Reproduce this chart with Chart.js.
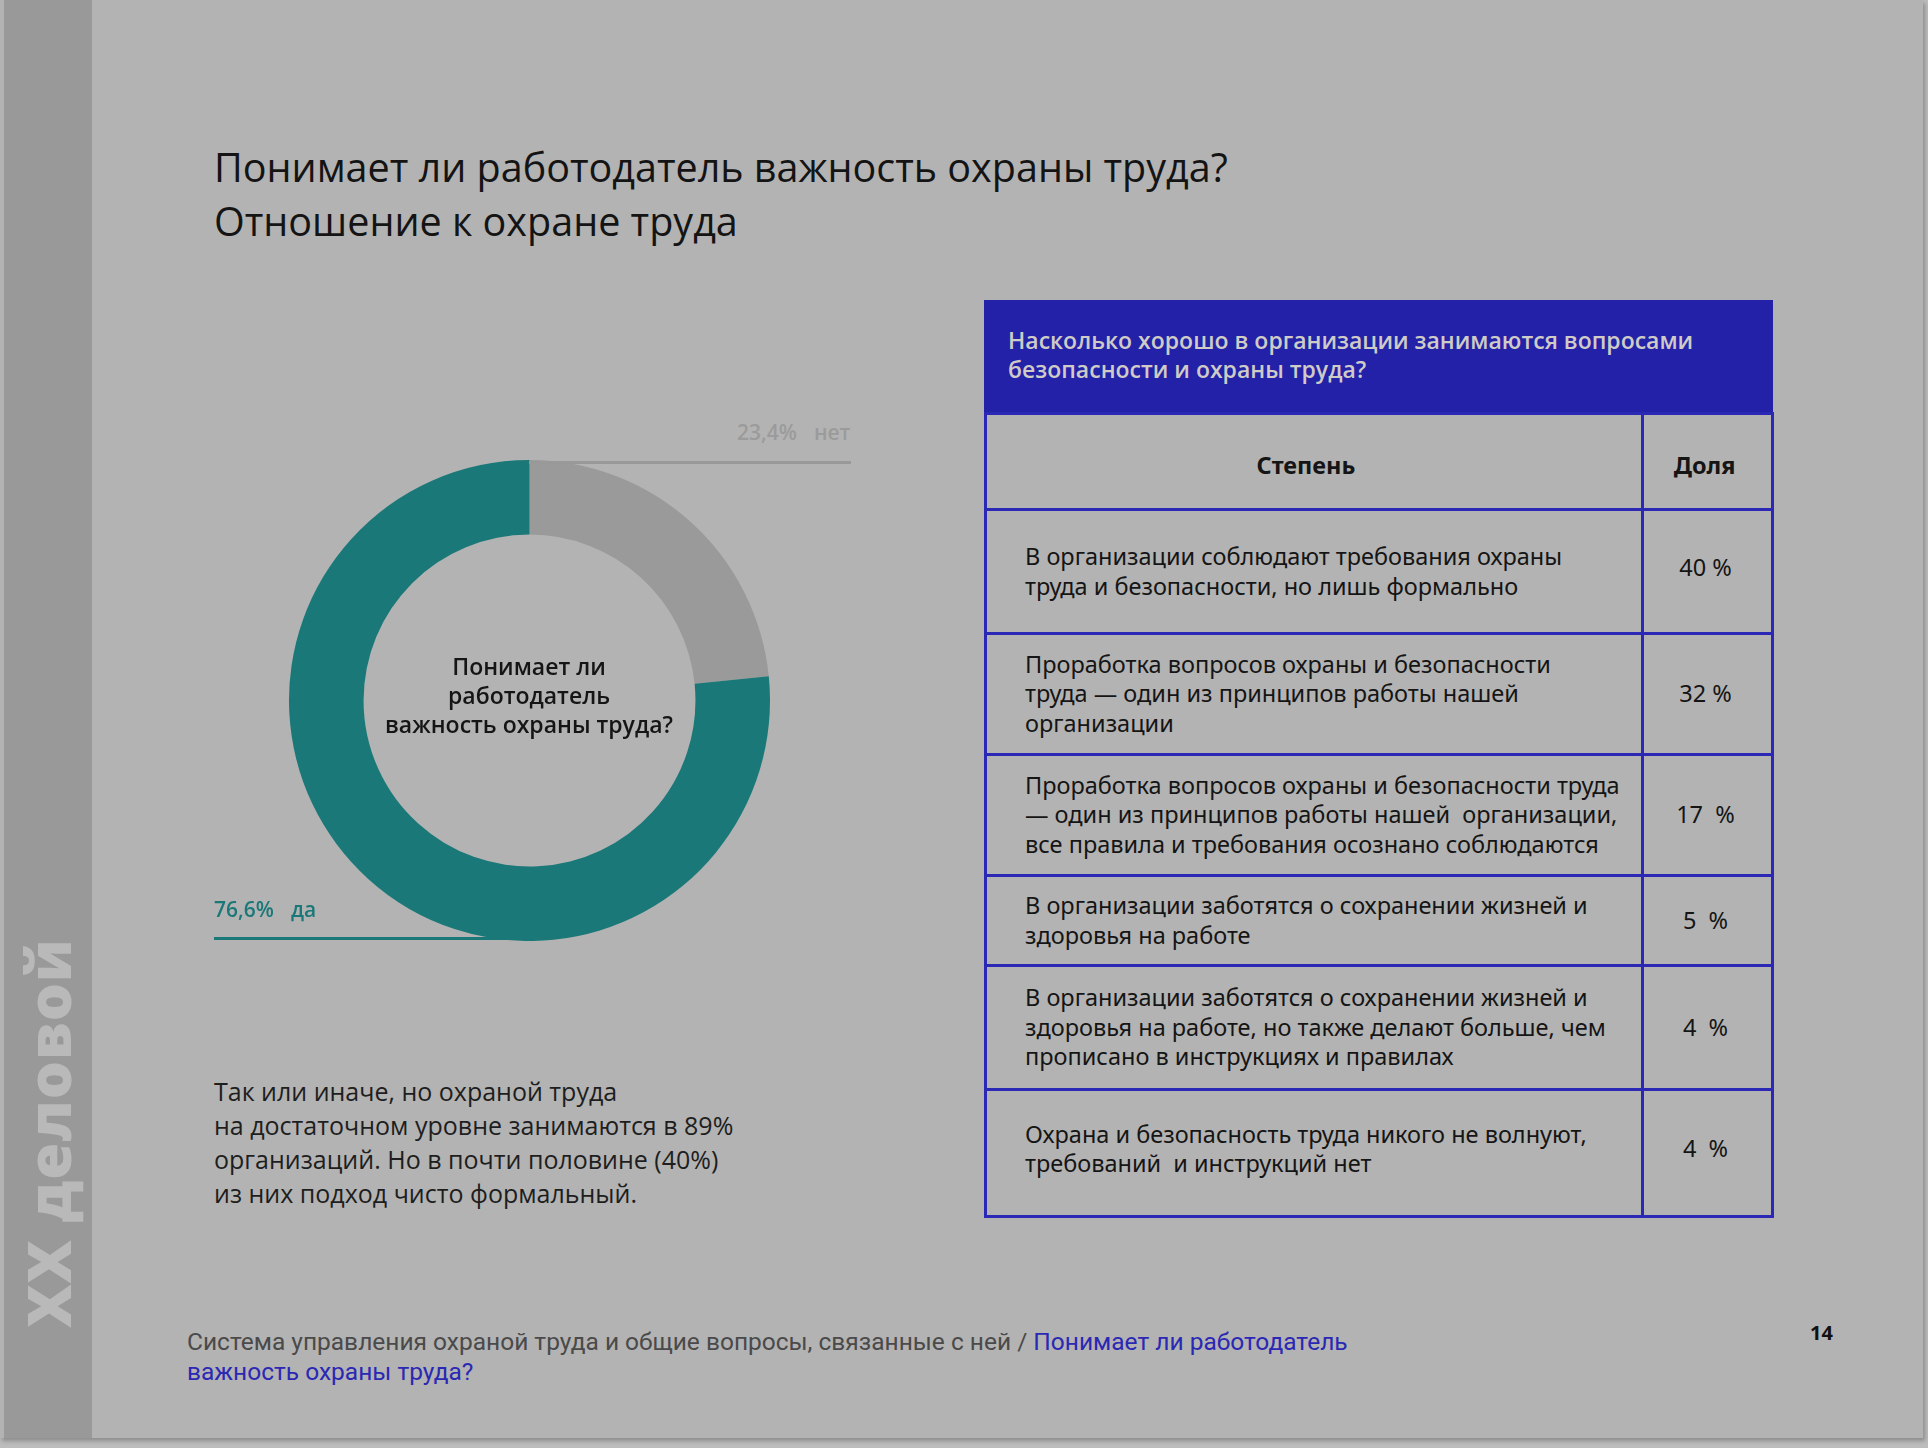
<!DOCTYPE html>
<html lang="ru">
<head>
<meta charset="utf-8">
<title>Отношение к охране труда</title>
<script src="https://cdn.jsdelivr.net/npm/chart.js@4.4.1/dist/chart.umd.min.js"></script>
<style>
  html, body { margin: 0; padding: 0; }
  body { width: 1928px; height: 1448px; background: #bcbcbc; overflow: hidden; position: relative; font-family: "Open Sans", sans-serif; }
  #page { position: absolute; left: 0; top: 0; width: 1923px; height: 1438px; background: #b3b3b3; box-shadow: 2px 3px 4px rgba(0,0,0,0.25); }
  #band { position: absolute; left: 4px; top: 0; width: 88px; height: 1438px; background: #999999; }
  #brand { position: absolute; left: 48px; top: 1133px; transform: translate(-50%, -50%) rotate(-90deg); color: #b9b9b9; font: 800 60px "Open Sans", sans-serif; white-space: nowrap; letter-spacing: 1px; }
  .abs { position: absolute; white-space: nowrap; }
  .title { left: 214px; font: 400 39.5px/44px "Open Sans", sans-serif; color: #141414; }
  #chartBox { position: absolute; left: 289px; top: 460px; width: 481px; height: 481px; }
  #center { left: 529px; top: 652px; transform: translateX(-50%); text-align: center; font: 600 23px/29px "Open Sans", sans-serif; color: #151515; }
  .lbl { font: 600 21px "Open Sans", sans-serif; }
  .lbl span + span { margin-left: 17px; }
  .rule { position: absolute; height: 3px; }
  #note { left: 214px; top: 1074px; font: 400 25px/34px "Open Sans", sans-serif; color: #1e1e1e; }
  #footer { left: 187px; top: 1327px; font: 400 24.5px/30px Roboto, sans-serif; color: #4a4a4a; }
  #footer b { font-weight: 400; color: #2a28b4; }
  #pageNo { left: 1810px; top: 1319px; font: 700 20px "Open Sans", sans-serif; color: #111; }
  #tableHead { position: absolute; left: 984px; top: 300px; width: 789px; height: 113px; background: #2321a8; box-sizing: border-box; padding: 26px 0 0 24px; color: #cfcbc6; font: 600 23px/29px "Open Sans", sans-serif; }
  table { position: absolute; left: 984px; top: 412px; border-collapse: collapse; }
  td { border: 3px solid #2a28b4; padding: 0; font: 400 23.5px/29.5px "Noto Sans", sans-serif; color: #151515; box-sizing: border-box; }
  td.deg { width: 657px; padding-left: 38px; white-space: nowrap; }
  td.share { width: 130px; text-align: center; padding-right: 4px; }
  tr.head td { font-weight: 700; text-align: center; padding: 8px 16px 0 0; }
  tr.head td.share { padding-right: 6px; }
</style>
</head>
<body>
<div id="page">
  <div id="band"></div>
  <div id="brand">ХХ деловой</div>
  <div class="abs title" style="top:145px;">Понимает ли работодатель важность охраны труда?</div>
  <div class="abs title" style="top:199px;">Отношение к охране труда</div>

  <div id="chartBox"><canvas id="donut"></canvas></div>
  <div id="center" class="abs">Понимает ли<br>работодатель<br>важность охраны труда?</div>

  <div id="lblNo" class="abs lbl" style="left:737px; top:418px; color:#9b9b9b;"></div>
  <div class="rule" style="left:529px; top:461px; width:322px; background:#999999;"></div>
  <div id="lblYes" class="abs lbl" style="left:214px; top:895px; color:#1b7878;"></div>
  <div class="rule" style="left:214px; top:937px; width:315px; background:#1b7878;"></div>

  <div id="note" class="abs">Так или иначе, но охраной труда<br>на достаточном уровне занимаются в 89%<br>организаций. Но в почти половине (40%)<br>из них подход чисто формальный.</div>

  <div id="tableHead">Насколько хорошо в организации занимаются вопросами<br>безопасности и охраны труда?</div>
  <table id="tbl"></table>

  <div id="footer" class="abs">Система управления охраной труда и общие вопросы, связанные с ней / <b>Понимает ли работодатель<br>важность охраны труда?</b></div>
  <div id="pageNo" class="abs">14</div>
</div>

<script>
// Донат: понимает ли работодатель важность охраны труда
const donutLabels = ["нет", "да"];
const donutValues = [23.4, 76.6];
const donutColors = ["#9a9a9a", "#1b7878"];

// Таблица: степень / доля
const tableColumns = ["Степень", "Доля"];
const tableDegrees = [
  ["В организации соблюдают требования охраны", "труда и безопасности, но лишь формально"],
  ["Проработка вопросов охраны и безопасности", "труда — один из принципов работы нашей", "организации"],
  ["Проработка вопросов охраны и безопасности труда", "— один из принципов работы нашей  организации,", "все правила и требования осознано соблюдаются"],
  ["В организации заботятся о сохранении жизней и", "здоровья на работе"],
  ["В организации заботятся о сохранении жизней и", "здоровья на работе, но также делают больше, чем", "прописано в инструкциях и правилах"],
  ["Охрана и безопасность труда никого не волнуют,", "требований  и инструкций нет"]
];
const tableShares = ["40 %", "32 %", "17  %", "5  %", "4  %", "4  %"];

// высоты строк таблицы (разметка)
const headRowHeight = 96;
const rowHeights = [124, 121, 121, 90, 124, 127];

const fmt = v => v.toFixed(1).replace(".", ",") + "%";
document.getElementById("lblNo").innerHTML = `<span>${fmt(donutValues[0])}</span><span>${donutLabels[0]}</span>`;
document.getElementById("lblYes").innerHTML = `<span>${fmt(donutValues[1])}</span><span>${donutLabels[1]}</span>`;

let tbl = document.getElementById("tbl");
let head = document.createElement("tr");
head.className = "head";
head.style.height = headRowHeight + "px";
head.innerHTML = `<td class="deg">${tableColumns[0]}</td><td class="share">${tableColumns[1]}</td>`;
tbl.appendChild(head);
tableDegrees.forEach((lines, i) => {
  let tr = document.createElement("tr");
  tr.style.height = rowHeights[i] + "px";
  let padDeg = i === tableDegrees.length - 1 ? "padding-bottom:8px;" : "";
  let padShare = i === 0 || i === tableDegrees.length - 1 ? "padding-bottom:8px;" : "";
  tr.innerHTML = `<td class="deg" style="${padDeg}">${lines.join("<br>").replace(/  /g, " &nbsp;")}</td>` +
    `<td class="share" style="${padShare}">${tableShares[i].replace(/ /g, "&nbsp;")}</td>`;
  tbl.appendChild(tr);
});

new Chart(document.getElementById("donut"), {
  type: "doughnut",
  data: {
    labels: donutLabels,
    datasets: [{
      data: donutValues,
      backgroundColor: donutColors,
      borderWidth: 0,
      hoverOffset: 0,
      offset: 0
    }]
  },
  options: {
    responsive: true,
    maintainAspectRatio: false,
    animation: false,
    cutout: "69%",
    rotation: 0,
    layout: { padding: 0 },
    plugins: {
      legend: { display: false },
      tooltip: { enabled: false }
    }
  }
});
</script>
</body>
</html>
